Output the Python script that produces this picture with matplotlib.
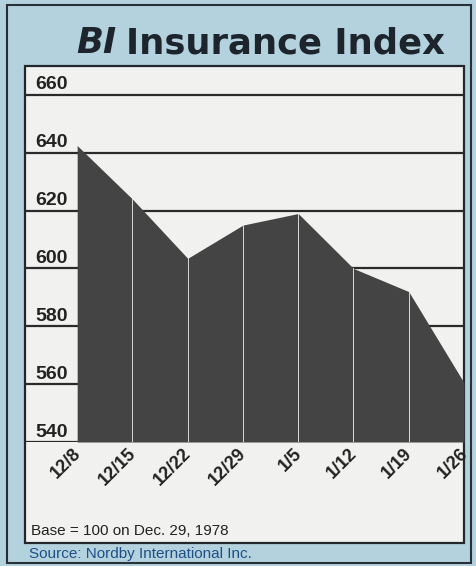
import matplotlib.pyplot as plt
import matplotlib.transforms as mtransforms
from matplotlib.patches import Rectangle

# 数据
dates = ['12/8', '12/15', '12/22', '12/29', '1/5', '1/12', '1/19', '1/26']
index_vals = [642.5, 624, 603.5, 615, 619, 600, 592, 560.5]
y_ticks = [540, 560, 580, 600, 620, 640, 660]

W, H = 476, 566
fig = plt.figure(figsize=(W / 100, H / 100), dpi=100)
fig.patch.set_facecolor('#b3d2de')


def px(x, y):
    # 像素坐标 -> figure 坐标
    return x / W, 1 - y / H


# 外框和内部白框（放在坐标轴下面）
fig.patches.append(Rectangle(px(7, 563), 464 / W, 558 / H, transform=fig.transFigure,
                             facecolor='none', edgecolor='#2a3038', lw=1.5, zorder=-10))
fig.patches.append(Rectangle(px(25, 543), 439 / W, 477 / H, transform=fig.transFigure,
                             facecolor='#f1f1ef', edgecolor='#23272c', lw=1.6, zorder=-9))

# 标题
tx, ty = px(116, 53)
fig.text(tx, ty, 'BI', fontsize=25.5, fontweight='bold', fontstyle='italic',
         family='DejaVu Sans', color='#1d242c', ha='right', va='baseline')
tx, ty = px(126, 53)
fig.text(tx, ty, 'Insurance Index', fontsize=25.5, fontweight='bold',
         family='DejaVu Sans', color='#1d242c', ha='left', va='baseline')

# 图表区域
l, t = px(25, 66)
r, b = px(464, 442)
ax = fig.add_axes([l, b, r - l, t - b])
ax.patch.set_alpha(0)
for s in ax.spines.values():
    s.set_visible(False)

x = list(range(len(dates)))
ax.set_xlim(-0.944, 7.0)
ax.set_ylim(540, 670)

for v in y_ticks:
    ax.axhline(v, color='#2a2a2a', lw=1.6, zorder=1)
    ax.text(-0.75, v + 0.5, str(v), fontsize=14, fontweight='bold',
            family='Liberation Sans', color='#222222', ha='left', va='bottom')

ax.fill_between(x, index_vals, 540, color='#444444', lw=0, zorder=2)
for i in x[1:-1]:
    ax.plot([i, i], [540, index_vals[i]], color='#d9d9d9', lw=0.7, zorder=3)

ax.set_xticks(x)
ax.set_xticklabels(dates, rotation=45, ha='right', va='top', fontsize=13,
                   fontweight='bold', family='Liberation Sans', color='#222222')
ax.tick_params(axis='x', length=0, pad=2)
ax.set_yticks([])
# 日期标签往右挪一点
shift = mtransforms.ScaledTranslation(7 / 100, 0, fig.dpi_scale_trans)
for lab in ax.get_xticklabels():
    lab.set_transform(lab.get_transform() + shift)

# 注释
fig.text(*px(31, 535), 'Base = 100 on Dec. 29, 1978', fontsize=11,
         family='Liberation Sans', color='#222222', ha='left', va='baseline')
fig.text(*px(29, 558), 'Source: Nordby International Inc.', fontsize=11,
         family='Liberation Sans', color='#1e4f86', ha='left', va='baseline')

fig.savefig('out.png', dpi=100)
